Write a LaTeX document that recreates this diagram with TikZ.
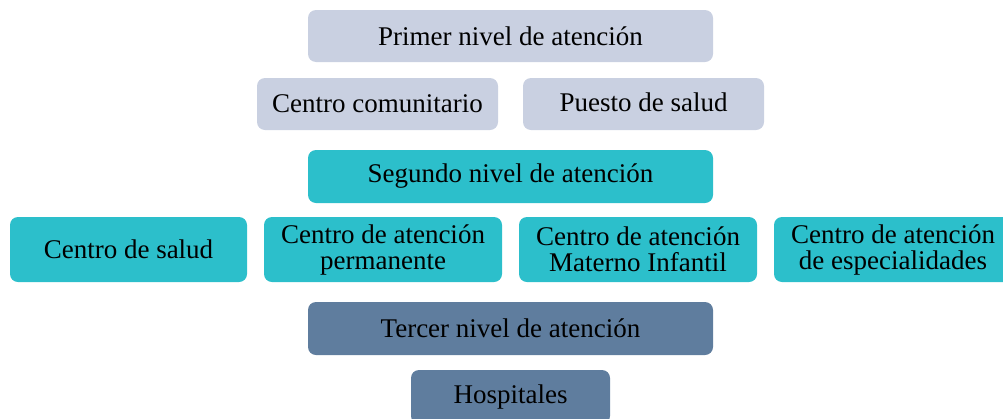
\documentclass[tikz,border=0pt]{standalone}
\usepackage{fontspec}
\setmainfont{Liberation Serif}
\definecolor{lvlone}{HTML}{C9D0E1}
\definecolor{lvltwo}{HTML}{2CBFCB}
\definecolor{lvlthree}{HTML}{5F7D9E}
\begin{document}
\begin{tikzpicture}[x=1pt,y=-1pt,
  box/.style={rectangle,rounded corners=8pt,inner sep=0pt,align=center,
    font=\fontsize{27}{26}\selectfont,text=black},
  one/.style={box,fill=lvlone},
  two/.style={box,fill=lvltwo},
  three/.style={box,fill=lvlthree}]
\useasboundingbox (0,0) rectangle (1003,418);
\node[one,minimum width=405pt,minimum height=52pt] (primer) at (510.5,36) {Primer nivel de atención};
\node[one,minimum width=241pt,minimum height=52pt] (comunitario) at (377.5,104) {Centro comunitario};
\node[one,minimum width=241pt,minimum height=52pt] (puesto) at (643.5,104) {\raisebox{3pt}{Puesto de salud}};
\node[two,minimum width=405pt,minimum height=53pt] (segundo) at (510.5,176.5) {Segundo nivel de atención};
\node[two,minimum width=237pt,minimum height=65pt] (salud) at (128.5,249.5) {Centro de salud};
\node[two,minimum width=238pt,minimum height=65pt] (permanente) at (383,249.5) {Centro de atención\\permanente};
\node[two,minimum width=238pt,minimum height=65pt] (materno) at (638,249.5) {Centro de atención\\Materno Infantil};
\node[two,minimum width=238pt,minimum height=65pt] (especial) at (893,249.5) {Centro de atención\\de especialidades};
\node[three,minimum width=405pt,minimum height=53pt] (tercer) at (510.5,328.5) {Tercer nivel de atención};
\node[three,minimum width=199pt,minimum height=54pt] (hospitales) at (510.5,397) {Hospitales};
\end{tikzpicture}
\end{document}
